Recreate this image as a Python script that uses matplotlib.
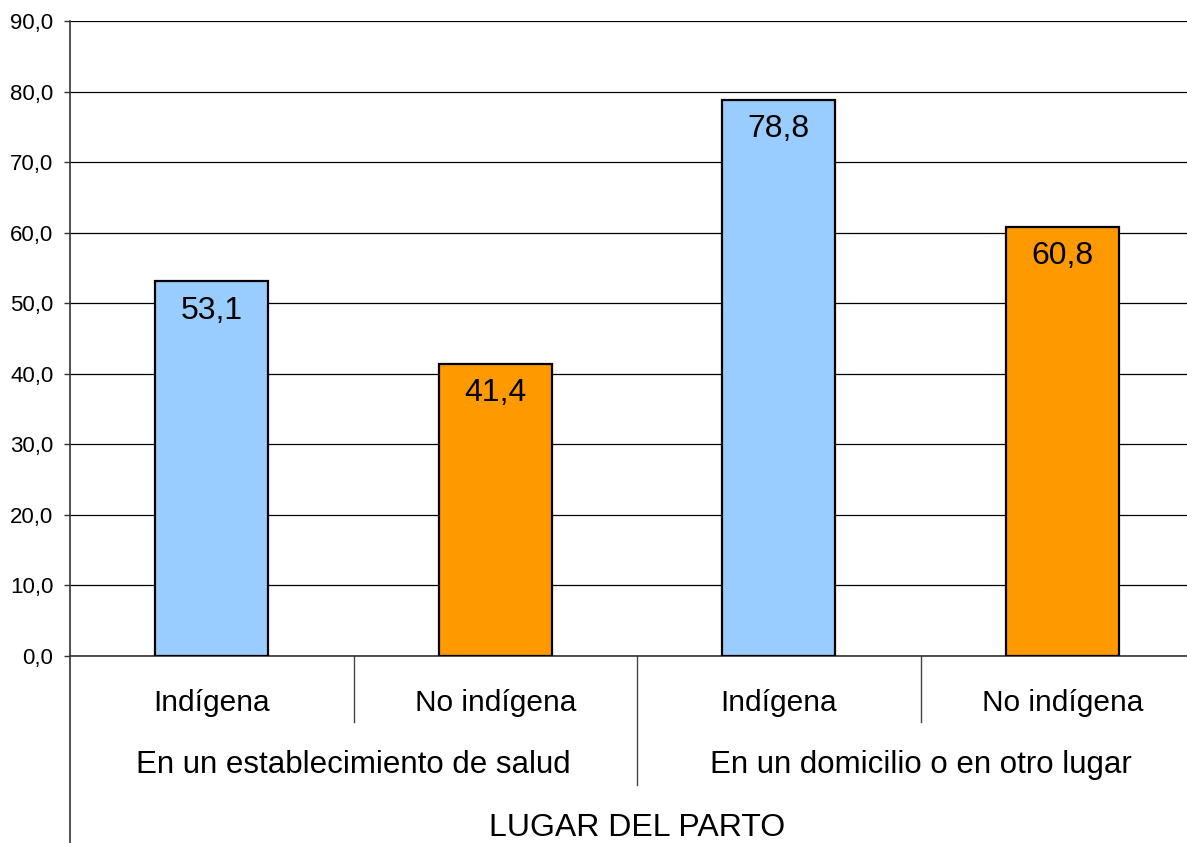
import matplotlib
matplotlib.use("Agg")
import matplotlib.pyplot as plt
import matplotlib.transforms as mtransforms

plt.rcParams['font.family'] = ['Liberation Sans', 'DejaVu Sans']

categories = ['Indígena', 'No indígena', 'Indígena', 'No indígena']
groups = ['En un establecimiento de salud', 'En un domicilio o en otro lugar']
values = [53.1, 41.4, 78.8, 60.8]
bar_colors = ['#99CCFF', '#FF9900', '#99CCFF', '#FF9900']
yticks = [0, 10, 20, 30, 40, 50, 60, 70, 80, 90]
axis_title = 'LUGAR DEL PARTO'

W, H = 1187, 843
fig = plt.figure(figsize=(W / 100, H / 100), dpi=100)
ax = fig.add_axes([70 / W, (H - 656) / H, (W - 70) / W, 635 / H])

x = list(range(len(categories)))
ax.bar(x, values, width=0.4, color=bar_colors, edgecolor='black', linewidth=1.6, zorder=3)

for xi, v in zip(x, values):
    ax.annotate(f'{v:.1f}'.replace('.', ','), (xi, v), xytext=(0, -21),
                textcoords='offset points', ha='center', va='center', fontsize=23)

ax.set_xlim(-0.5, -0.5 + (W - 70) / 283.5)
ax.set_ylim(0, 90)
ax.set_yticks(yticks)
ax.set_yticklabels([f'{t:.1f}'.replace('.', ',') for t in yticks], fontsize=16)
ax.tick_params(axis='y', length=4, width=1, color='#333333', pad=8)
ax.set_xticks([])
ax.yaxis.grid(True, color='black', linewidth=0.9, zorder=0)

for s in ['top', 'right']:
    ax.spines[s].set_visible(False)
ax.spines['left'].set_color('#333333')
ax.spines['bottom'].set_color('#333333')
ax.spines['left'].set_linewidth(1.2)
ax.spines['bottom'].set_linewidth(1.2)

trans = mtransforms.blended_transform_factory(ax.transData, ax.transAxes)
# multi-level category axis
ax.plot([-0.5, -0.5], [0, -0.295], transform=trans, color='#333333', lw=1.2, clip_on=False)
for sx in [0.5, 2.5]:
    ax.plot([sx, sx], [0, -0.104], transform=trans, color='#444444', lw=1, clip_on=False)
ax.plot([1.5, 1.5], [0, -0.203], transform=trans, color='#444444', lw=1, clip_on=False)

for xi, c in zip(x, categories):
    ax.text(xi, -0.074, c, transform=trans, ha='center', va='center', fontsize=21.5)
for gi, g in enumerate(groups):
    ax.text(0.5 + 2 * gi, -0.172, g, transform=trans, ha='center', va='center', fontsize=22.5)
ax.text(1.5, -0.271, axis_title, transform=trans, ha='center', va='center', fontsize=23)

fig.savefig('out.png', dpi=100)
